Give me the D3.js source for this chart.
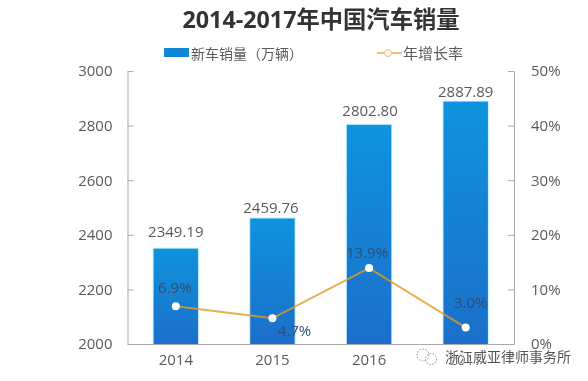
<!DOCTYPE html>
<html>
<head>
<meta charset="utf-8">
<script src="https://cdn.jsdelivr.net/npm/d3@7"></script>
<style>
	html, body { margin: 0; padding: 0; background: #fff; }
	svg { display: block; }
	text { font-family: "Open Sans", "Noto Sans CJK SC", sans-serif; }
	.blur { filter: blur(0.45px); }
</style>
</head>
<body>
<div id="chart"></div>
<script>
'use strict';

const years = ['2014', '2015', '2016', '2017'];
const sales = [2349.19, 2459.76, 2802.80, 2887.89];
const salesLabels = ['2349.19', '2459.76', '2802.80', '2887.89'];
const growth = [6.9, 4.7, 13.9, 3.0];
const growthLabels = ['6.9%', '4.7%', '13.9%', '3.0%'];
const leftTicks = [2000, 2200, 2400, 2600, 2800, 3000];
const rightTicks = [0, 10, 20, 30, 40, 50];

const width = 588;
const height = 381;
const margin = {top: 71, right: 74, bottom: 37, left: 127.5};
const axisColor = '#a9a9a9';
const textColor = '#5a5a5a';

const svg = d3.select('#chart')
	.append('svg')
	.attr('width', width)
	.attr('height', height);

const defs = svg.append('defs');
const grad = defs.append('linearGradient')
	.attr('id', 'barFill')
	.attr('x1', 0).attr('x2', 0).attr('y1', 0).attr('y2', 1);
grad.append('stop').attr('offset', '0%').attr('stop-color', '#0f93dd');
grad.append('stop').attr('offset', '100%').attr('stop-color', '#1c6fc9');

const x = d3.scaleBand()
	.domain(years)
	.range([margin.left, width - margin.right])
	.paddingInner(0.54)
	.paddingOuter(0.27);

const yLeft = d3.scaleLinear()
	.domain([2000, 3000])
	.range([height - margin.bottom, margin.top]);

const yRight = d3.scaleLinear()
	.domain([0, 50])
	.range([height - margin.bottom, margin.top]);

const plot = svg.append('g').attr('class', 'blur');

// Bars, the stroke sits behind the fill and gives the pale edge
plot.append('g')
	.selectAll('rect')
	.data(years)
	.enter()
	.append('rect')
		.attr('x', d => x(d))
		.attr('width', x.bandwidth())
		.attr('y', (d, i) => yLeft(sales[i]))
		.attr('height', (d, i) => yLeft(2000) - yLeft(sales[i]))
		.attr('fill', 'url(#barFill)')
		.attr('stroke', '#c4f1ff')
		.attr('stroke-width', 2)
		.attr('paint-order', 'stroke');

// Axes
const axisLeft = d3.axisLeft(yLeft).tickValues(leftTicks).tickSize(5).tickSizeOuter(0).tickPadding(10).tickFormat(d3.format('d'));
const axisRight = d3.axisRight(yRight).tickValues(rightTicks).tickSize(5).tickSizeOuter(0).tickPadding(12).tickFormat(d => d + '%');
const axisBottom = d3.axisBottom(x).tickSize(0).tickPadding(10.5);

function styleAxis(g){
	g.selectAll('.domain').attr('stroke', axisColor);
	g.selectAll('.tick line').attr('stroke', axisColor);
	g.selectAll('.tick text').attr('fill', textColor).style('font-size', '15px');
}

plot.append('g')
	.attr('transform', 'translate(' + margin.left + ',0)')
	.call(axisLeft)
	.call(styleAxis)
	.selectAll('.tick line').attr('x2', 6);

plot.append('g')
	.attr('transform', 'translate(' + (width - margin.right) + ',0)')
	.call(axisRight)
	.call(styleAxis)
	.selectAll('.tick line').attr('x2', -6);

plot.append('g')
	.attr('transform', 'translate(0,' + (height - margin.bottom) + ')')
	.call(axisBottom)
	.call(styleAxis);

// Value labels over the bars, hand placed in the source so the gaps differ
const salesDx = [0, -1.5, 1, 0];
const salesDy = [-12, -5, -9, -5];
const center = i => x(years[i]) + x.bandwidth() / 2;

plot.append('g')
	.selectAll('text')
	.data(salesLabels)
	.enter()
	.append('text')
		.attr('x', (d, i) => center(i) + salesDx[i])
		.attr('y', (d, i) => yLeft(sales[i]) + salesDy[i])
		.attr('text-anchor', 'middle')
		.attr('fill', textColor)
		.style('font-size', '15px')
		.text(d => d);

// Growth line
const line = d3.line()
	.x((d, i) => center(i))
	.y(d => yRight(d));

plot.append('path')
	.datum(growth)
	.attr('fill', 'none')
	.attr('stroke', '#e39a24')
	.attr('stroke-opacity', 0.8)
	.attr('stroke-width', 2)
	.attr('d', line);

plot.append('g')
	.selectAll('circle')
	.data(growth)
	.enter()
	.append('circle')
		.attr('cx', (d, i) => center(i))
		.attr('cy', d => yRight(d))
		.attr('r', 4)
		.attr('fill', '#fff');

// Growth labels, each sits in its own spot as in the source
const growthDx = [-1, 22, -2, 5];
const growthDy = [-13, 18, -10, -20];
plot.append('g')
	.selectAll('text')
	.data(growthLabels)
	.enter()
	.append('text')
		.attr('x', (d, i) => center(i) + growthDx[i])
		.attr('y', (d, i) => yRight(growth[i]) + growthDy[i])
		.attr('text-anchor', 'middle')
		.attr('fill', '#2e4d78')
		.style('font-size', '15px')
		.text(d => d);

// Title
svg.append('text')
	.attr('class', 'blur')
	.attr('x', 321)
	.attr('y', 27.5)
	.attr('text-anchor', 'middle')
	.attr('fill', '#333')
	.style('font-size', '23.3px')
	.style('font-weight', 700)
	.text('2014-2017年中国汽车销量');

// Legend
const legend = svg.append('g').attr('class', 'blur');
legend.append('rect')
	.attr('x', 164).attr('y', 48)
	.attr('width', 25).attr('height', 9)
	.attr('fill', '#0f87d6');
legend.append('text')
	.attr('x', 191).attr('y', 58.5)
	.attr('fill', textColor)
	.style('font-size', '14px')
	.text('新车销量（万辆）');
legend.append('line')
	.attr('x1', 377).attr('x2', 402)
	.attr('y1', 53).attr('y2', 53)
	.attr('stroke', '#e8ad4f')
	.attr('stroke-width', 1.5);
legend.append('circle')
	.attr('cx', 388).attr('cy', 53).attr('r', 3.5)
	.attr('fill', '#fbf7ee')
	.attr('stroke', '#e8c27f');
legend.append('text')
	.attr('x', 403).attr('y', 59)
	.attr('fill', textColor)
	.style('font-size', '15px')
	.text('年增长率');

// Watermark
const mark = svg.append('g');
mark.append('circle')
	.attr('cx', 423).attr('cy', 355).attr('r', 6)
	.attr('fill', 'none').attr('stroke', '#888')
	.attr('stroke-width', 1).attr('stroke-dasharray', '1.5 1.5');
mark.append('circle')
	.attr('cx', 431).attr('cy', 359).attr('r', 5.5)
	.attr('fill', 'none').attr('stroke', '#888')
	.attr('stroke-width', 1).attr('stroke-dasharray', '1.5 1.5');
mark.append('text')
	.attr('x', 445).attr('y', 362)
	.attr('fill', '#555')
	.attr('stroke', '#fff')
	.attr('stroke-width', 1)
	.attr('paint-order', 'stroke')
	.style('font-size', '14px')
	.text('浙江威亚律师事务所');
</script>
</body>
</html>
